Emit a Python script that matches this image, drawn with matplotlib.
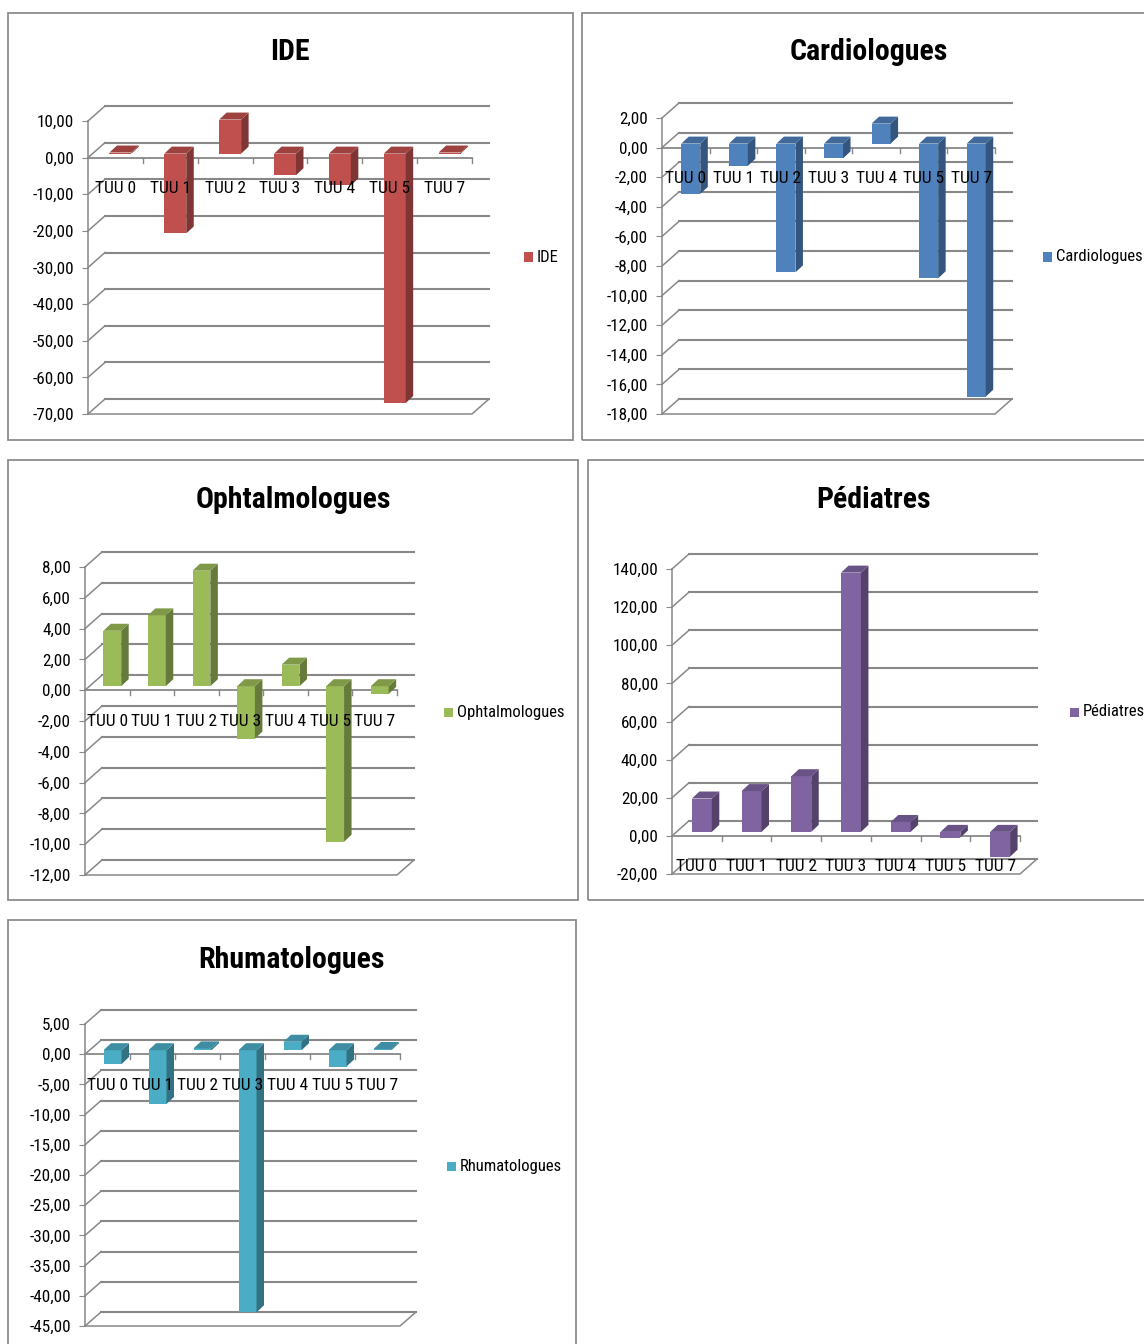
import matplotlib
matplotlib.use("Agg")
import matplotlib.pyplot as plt
from matplotlib import font_manager as fm
from matplotlib.patches import Rectangle, Polygon
from matplotlib.lines import Line2D
import numpy as np

# ---- data -------------------------------------------------------------
categories = ["TUU 0", "TUU 1", "TUU 2", "TUU 3", "TUU 4", "TUU 5", "TUU 7"]

ide = [0.3, -21.8, 9.3, -5.9, -8.7, -68.1, 0.3]
cardiologues = [-3.4, -1.5, -8.7, -1.0, 1.35, -9.1, -17.1]
ophtalmologues = [3.6, 4.6, 7.5, -3.4, 1.4, -10.1, -0.5]
pediatres = [17.5, 21.4, 29.2, 136.0, 5.2, -3.0, -13.0]
rhumatologues = [-2.3, -8.9, 0.3, -43.4, 1.4, -2.7, 0.2]

ide_ticks = [10, 0, -10, -20, -30, -40, -50, -60, -70]
cardio_ticks = [2, 0, -2, -4, -6, -8, -10, -12, -14, -16, -18]
ophtalmo_ticks = [8, 6, 4, 2, 0, -2, -4, -6, -8, -10, -12]
pediatres_ticks = [140, 120, 100, 80, 60, 40, 20, 0, -20]
rhumato_ticks = [5, 0, -5, -10, -15, -20, -25, -30, -35, -40, -45]


# ---- narrow sans-serif face (closest available to the chart font) -----
def pick_font():
    entries = fm.fontManager.ttflist
    names = {e.name for e in entries}
    for nm in ["Liberation Sans Narrow", "Roboto Condensed", "Open Sans Condensed",
               "Noto Sans Condensed", "DejaVu Sans Condensed"]:
        if nm in names:
            return nm, "normal"
    for fam in ["Noto Sans", "Open Sans", "Roboto", "DejaVu Sans", "Lato", "Inter"]:
        for st in ["condensed", "semi-condensed", "extra-condensed"]:
            for e in entries:
                if e.name == fam and e.stretch == st and e.style == "normal":
                    return fam, st
    for e in entries:
        if ("Narrow" in e.name or "Condensed" in e.name) and e.style == "normal":
            return e.name, "normal"
    return "Liberation Sans", "normal"


FONT, STRETCH = pick_font()
plt.rcParams["font.family"] = [FONT, "DejaVu Sans"]
plt.rcParams["font.stretch"] = STRETCH

# ---- figure -----------------------------------------------------------
W, H, DPI = 1144, 1344, 100
fig = plt.figure(figsize=(W / DPI, H / DPI), dpi=DPI)
fig.patch.set_facecolor("white")

GRID = "#888888"
BORDER = "#8c8c8c"


def fx(x):
    return x / W


def fy(y):
    return 1 - y / H


def shade(hex_color, f):
    rgb = np.array(matplotlib.colors.to_rgb(hex_color))
    return tuple(rgb * f)


def fmt(v):
    return f"{v:.2f}".replace(".", ",")


def draw_panel(title, values, ticks, color, box, axis_px, title_xy, legend_xy,
               depth_px=(17, 15)):
    # frame around the chart
    bx0, by0, bx1, by1 = box
    fig.add_artist(Rectangle((fx(bx0), fy(by1)), (bx1 - bx0) / W, (by1 - by0) / H,
                             transform=fig.transFigure, fill=False,
                             ec=BORDER, lw=1.3, zorder=0))

    x0, x1, ytop, ybot = axis_px
    ax = fig.add_axes([fx(x0), fy(ybot), (x1 - x0) / W, (ybot - ytop) / H])
    ax.set_facecolor("none")
    n = len(values)
    vmax, vmin = ticks[0], ticks[-1]
    ax.set_xlim(0, n)
    ax.set_ylim(vmin, vmax)
    ux = n / (x1 - x0)
    uy = (vmax - vmin) / (ybot - ytop)
    ddx, ddy = depth_px[0] * ux, depth_px[1] * uy

    # walls: back gridlines and side-wall diagonals
    for t in ticks:
        ax.add_line(Line2D([ddx, n + ddx], [t + ddy, t + ddy], color=GRID,
                           lw=1.5, clip_on=False, zorder=1))
        ax.add_line(Line2D([0, ddx], [t, t + ddy], color=GRID,
                           lw=1.1, clip_on=False, zorder=1))
    # floor
    ax.add_line(Line2D([0, n, n + ddx], [vmin, vmin, vmin + ddy], color=GRID,
                       lw=1.1, clip_on=False, zorder=1))

    # category axis at zero
    ax.add_line(Line2D([0, n], [0, 0], color=GRID, lw=1.3, clip_on=False, zorder=2))
    for i in range(1, n + 1):
        ax.add_line(Line2D([i, i], [0, -5 * uy], color=GRID, lw=1.0,
                           clip_on=False, zorder=2))

    # value axis
    for s in ["top", "right", "bottom"]:
        ax.spines[s].set_visible(False)
    ax.spines["left"].set_color(GRID)
    ax.spines["left"].set_linewidth(1.1)
    ax.set_xticks([])
    ax.set_yticks(ticks)
    ax.set_yticklabels([fmt(t) for t in ticks], fontsize=12.3)
    ax.tick_params(axis="y", length=4, color=GRID, pad=6)

    # 3-D columns
    bw = 0.40
    sx, sy = 5 * ux, 4 * uy
    bdx, bdy = 7.5 * ux, 7 * uy
    front_c = color
    side_c = shade(color, 0.66)
    top_c = shade(color, 0.82)
    for i, v in enumerate(values):
        xl = i + 0.5 - bw / 2 + sx
        xr = xl + bw
        lo, hi = sorted([sy, v + sy])
        ax.add_patch(Rectangle((xl, lo), bw, hi - lo, fc=front_c, ec="none",
                               clip_on=False, zorder=3))
        ax.add_patch(Polygon([(xr, lo), (xr + bdx, lo + bdy), (xr + bdx, hi + bdy),
                              (xr, hi)], closed=True, fc=side_c, ec="none",
                             clip_on=False, zorder=3))
        ax.add_patch(Polygon([(xl, hi), (xr, hi), (xr + bdx, hi + bdy),
                              (xl + bdx, hi + bdy)], closed=True, fc=top_c,
                             ec="none", clip_on=False, zorder=3))

    # category labels
    for i, c in enumerate(categories):
        ax.annotate(c, (i + 0.5, 0), xytext=(0, -31), textcoords="offset pixels",
                    ha="center", va="center", fontsize=12.5, zorder=5,
                    annotation_clip=False)

    # title
    fig.text(fx(title_xy[0]), fy(title_xy[1]), title, ha="center", va="center",
             fontsize=21.5, fontweight="bold")

    # legend
    lx, ly = legend_xy
    fig.add_artist(Rectangle((fx(lx), fy(ly + 4.5)), 9 / W, 9 / H,
                             transform=fig.transFigure, fc=color, ec="none"))
    fig.text(fx(lx + 13), fy(ly), title, ha="left", va="center", fontsize=12)


draw_panel("IDE", ide, ide_ticks, "#C0504D",
           box=(8, 13, 573, 440), axis_px=(88, 472, 121, 414),
           title_xy=(290, 52), legend_xy=(524, 257))
draw_panel("Cardiologues", cardiologues, cardio_ticks, "#4F81BD",
           box=(582, 13, 1160, 440), axis_px=(662, 995, 118, 414),
           title_xy=(869, 52), legend_xy=(1043, 257))
draw_panel("Ophtalmologues", ophtalmologues, ophtalmo_ticks, "#9BBB59",
           box=(8, 460, 578, 900), axis_px=(85, 397, 567, 875),
           title_xy=(293, 500), legend_xy=(444, 712))
draw_panel("Pédiatres", pediatres, pediatres_ticks, "#8064A2",
           box=(588, 460, 1160, 900), axis_px=(672, 1020, 569, 874),
           title_xy=(874, 500), legend_xy=(1070, 712))
draw_panel("Rhumatologues", rhumatologues, rhumato_ticks, "#4BACC6",
           box=(8, 920, 576, 1360), axis_px=(85, 400, 1024, 1326),
           title_xy=(292, 960), legend_xy=(447, 1166), depth_px=(16, 14))

fig.savefig("out.png", dpi=DPI, facecolor="white")
